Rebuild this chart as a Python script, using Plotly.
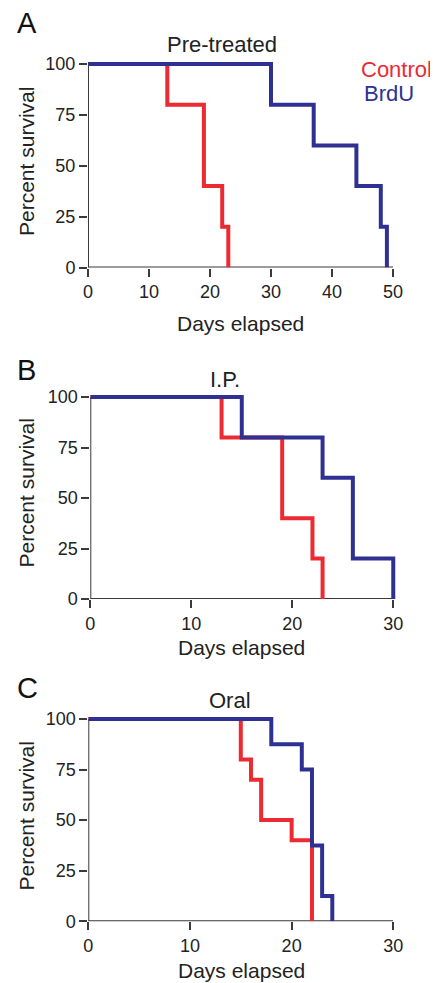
import plotly.graph_objects as go

# The page body adds an 8px margin, so the figure is sized to fill the rest
OFF = 8
W, H = 438 - OFF, 983 - OFF

# ---- data ----
a_control_days = [0, 13, 19, 22, 23]
a_control_surv = [100, 80, 40, 20, 0]
a_brdu_days = [0, 30, 37, 44, 48, 49]
a_brdu_surv = [100, 80, 60, 40, 20, 0]

b_control_days = [0, 13, 19, 22, 23]
b_control_surv = [100, 80, 40, 20, 0]
b_brdu_days = [0, 15, 23, 26, 30]
b_brdu_surv = [100, 80, 60, 20, 0]

c_control_days = [0, 15, 16, 17, 20, 22]
c_control_surv = [100, 80, 70, 50, 40, 0]
c_brdu_days = [0, 18, 21, 22, 23, 24]
c_brdu_surv = [100, 87.5, 75, 37.5, 12.5, 0]

y_ticks = [0, 25, 50, 75, 100]
a_x_ticks = [0, 10, 20, 30, 40, 50]
bc_x_ticks = [0, 10, 20, 30]

panel_letters = ["A", "B", "C"]
panel_titles = ["Pre-treated", "I.P.", "Oral"]
series_names = ["Control", "BrdU"]

RED = "#EC2A32"
BLUE = "#2E3192"
AXC = "#3a3a3a"
FONT = "Liberation Sans, Arial, Helvetica, sans-serif"


def px_x(p):
    return (p - OFF) / W


def px_y(p):
    return 1 - (p - OFF) / H


fig = go.Figure()

panels = [
    dict(ctrl=(a_control_days, a_control_surv), brdu=(a_brdu_days, a_brdu_surv),
         xticks=a_x_ticks, xr=[0, 50], yr=[0, 102],
         xdom=(88, 393), ydom=(59.9, 267.5), xs="x", ys="y"),
    dict(ctrl=(b_control_days, b_control_surv), brdu=(b_brdu_days, b_brdu_surv),
         xticks=bc_x_ticks, xr=[0, 30.4], yr=[0, 102],
         xdom=(90.3, 397.3), ydom=(393.0, 599), xs="x2", ys="y2"),
    dict(ctrl=(c_control_days, c_control_surv), brdu=(c_brdu_days, c_brdu_surv),
         xticks=bc_x_ticks, xr=[0, 30], yr=[0, 102],
         xdom=(88.3, 393.3), ydom=(714.9, 921.3), xs="x3", ys="y3"),
]

layout_axes = {}
shapes = []
for i, p in enumerate(panels):
    suffix = "" if i == 0 else str(i + 1)
    for name, color, key in [(series_names[0], RED, "ctrl"), (series_names[1], BLUE, "brdu")]:
        xs, ys = p[key]
        fig.add_trace(go.Scatter(
            x=xs, y=ys, mode="lines", line=dict(color=color, width=4, shape="hv"),
            name=name, showlegend=False, xaxis=p["xs"], yaxis=p["ys"],
        ))
    layout_axes["xaxis" + suffix] = dict(
        domain=[px_x(p["xdom"][0]), px_x(p["xdom"][1])],
        range=p["xr"], anchor=p["ys"], tickvals=p["xticks"],
        ticks="outside", ticklen=8, tickwidth=1.5, tickcolor=AXC,
        showline=False, showgrid=False, zeroline=False, automargin=False,
        tickfont=dict(family=FONT, size=18, color="#222"), fixedrange=True,
    )
    layout_axes["yaxis" + suffix] = dict(
        domain=[px_y(p["ydom"][1]), px_y(p["ydom"][0])],
        range=p["yr"], anchor=p["xs"], tickvals=y_ticks,
        ticks="outside", ticklen=8, tickwidth=1.5, tickcolor=AXC,
        showline=False, showgrid=False, zeroline=False, automargin=False,
        tickfont=dict(family=FONT, size=18, color="#222"), fixedrange=True,
    )
    # axis lines spanning the tick range
    shapes.append(dict(type="line", xref=p["xs"], yref=p["ys"],
                       x0=p["xticks"][0], x1=p["xticks"][-1], y0=y_ticks[0], y1=y_ticks[0],
                       line=dict(color=AXC, width=2), layer="below"))
    shapes.append(dict(type="line", xref=p["xs"], yref=p["ys"],
                       x0=p["xticks"][0], x1=p["xticks"][0], y0=y_ticks[0], y1=y_ticks[-1],
                       line=dict(color=AXC, width=2), layer="below"))

annotations = []


def ann(text, x, y, size, color="#222", xanchor="center", angle=0):
    annotations.append(dict(
        text=text, x=px_x(x), y=px_y(y), xref="paper", yref="paper",
        xanchor=xanchor, yanchor="middle", showarrow=False, textangle=angle,
        font=dict(family=FONT, size=size, color=color),
    ))


letter_pos = [(27, 23), (26, 370), (27, 688)]
title_pos = [(222, 44), (224.7, 379), (230, 700)]
xtitle_pos = [(240.8, 323.5), (241.7, 647), (241, 970)]
ytitle_pos = [(26, 162), (26, 493.5), (26, 816.5)]

for i in range(3):
    ann(panel_letters[i], *letter_pos[i], 29, color="#111")
    ann(panel_titles[i], *title_pos[i], 22)
    ann("Days elapsed", *xtitle_pos[i], 21)
    ann("Percent survival", *ytitle_pos[i], 21, angle=-90)

ann(series_names[0], 434, 69, 22, color=RED, xanchor="right")
ann(series_names[1], 362, 93.5, 22, color=BLUE, xanchor="left")

fig.update_layout(
    width=W, height=H, margin=dict(l=0, r=0, t=0, b=0, pad=0),
    paper_bgcolor="white", plot_bgcolor="white",
    showlegend=False, shapes=shapes, annotations=annotations,
    **layout_axes,
)

fig.write_html("out.html")
